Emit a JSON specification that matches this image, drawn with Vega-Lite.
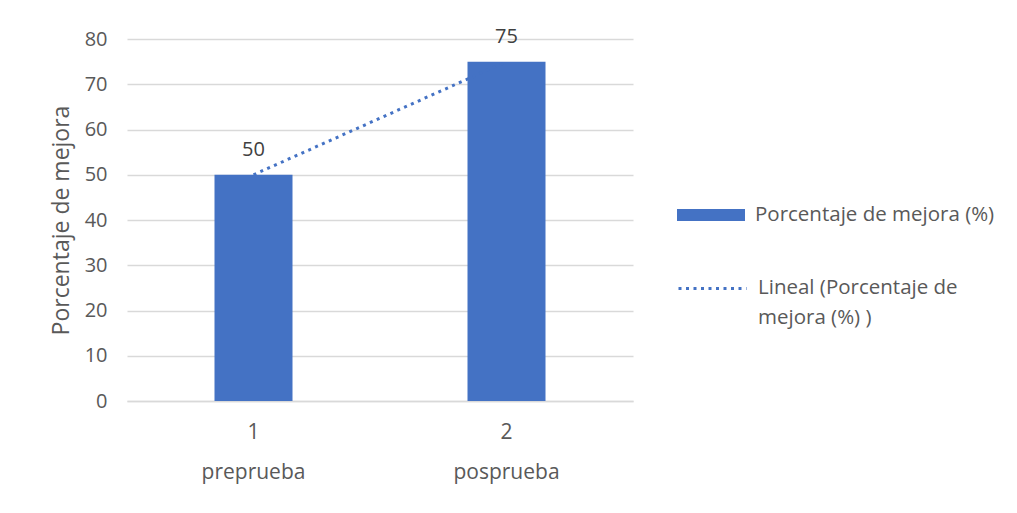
{
  "$schema": "https://vega.github.io/schema/vega-lite/v6.json",
  "width": 506,
  "height": 362,
  "autosize": {"type": "none"},
  "padding": {"left": 127, "top": 39, "right": 384, "bottom": 112},
  "background": "white",
  "config": {
    "view": {"stroke": null},
    "font": "Open Sans",
    "text": {"font": "Open Sans"},
    "axis": {"labelFont": "Open Sans", "titleFont": "Open Sans", "labelColor": "#595959", "titleColor": "#595959"},
    "legend": {"labelFont": "Open Sans", "labelColor": "#595959"}
  },
  "data": {
    "values": [
      {"n": "1", "fase": "preprueba", "valor": 50, "serie": "Porcentaje de mejora (%)", "tend": "Lineal (Porcentaje de mejora (%) )"},
      {"n": "2", "fase": "posprueba", "valor": 75, "serie": "Porcentaje de mejora (%)", "tend": "Lineal (Porcentaje de mejora (%) )"}
    ]
  },
  "encoding": {
    "x": {
      "field": "n",
      "type": "nominal",
      "scale": {"paddingInner": 0, "paddingOuter": 0},
      "axis": {
        "title": null,
        "labelAngle": 0,
        "labelExpr": "[datum.value, datum.value == '1' ? 'preprueba' : 'posprueba']",
        "labelFontSize": 21,
        "labelLineHeight": 40,
        "labelPadding": 20,
        "labelBaseline": "top",
        "ticks": false,
        "domain": true,
        "domainColor": "#D9D9D9",
        "domainWidth": 1.5
      }
    },
    "y": {
      "field": "valor",
      "type": "quantitative",
      "scale": {"domain": [0, 80], "nice": false},
      "axis": {
        "title": "Porcentaje de mejora",
        "titleFontSize": 23,
        "titleFontWeight": "normal",
        "titlePadding": 11,
        "values": [0, 10, 20, 30, 40, 50, 60, 70, 80],
        "labelFontSize": 20,
        "labelPadding": 20,
        "ticks": false,
        "domain": false,
        "grid": true,
        "gridColor": "#D9D9D9",
        "gridWidth": 1.5
      }
    }
  },
  "layer": [
    {
      "mark": {"type": "bar", "size": 78},
      "encoding": {
        "color": {
          "field": "serie",
          "type": "nominal",
          "scale": {"range": ["#4472C4"]},
          "legend": {
            "title": null,
            "orient": "none",
            "legendX": 550,
            "legendY": 142,
            "symbolType": "M-1,-0.18H1V0.18H-1Z",
            "symbolSize": 4624,
            "symbolStrokeWidth": 0,
            "labelFontSize": 20.5,
            "labelOffset": 10,
            "labelLimit": 400
          }
        }
      }
    },
    {
      "mark": {"type": "line", "color": "#4472C4", "strokeWidth": 3},
      "encoding": {
        "strokeDash": {
          "field": "tend",
          "type": "nominal",
          "scale": {"range": [[3, 4.5]]},
          "legend": {
            "title": null,
            "orient": "none",
            "legendX": 550,
            "legendY": 214,
            "symbolType": "stroke",
            "symbolSize": 4624,
            "symbolStrokeColor": "#4472C4",
            "symbolStrokeWidth": 3,
            "labelFontSize": 20.5,
            "labelOffset": 10,
            "labelLimit": 400,
            "labelExpr": "['Lineal (Porcentaje de', 'mejora (%) )']",
            "labelBaseline": "top",
            "encode": {"labels": {"update": {"lineHeight": {"value": 30}, "dy": {"value": -11}}}}
          }
        }
      }
    },
    {
      "mark": {"type": "text", "dy": -25, "fontSize": 20, "color": "#404040"},
      "encoding": {"text": {"field": "valor", "type": "quantitative"}}
    }
  ]
}
